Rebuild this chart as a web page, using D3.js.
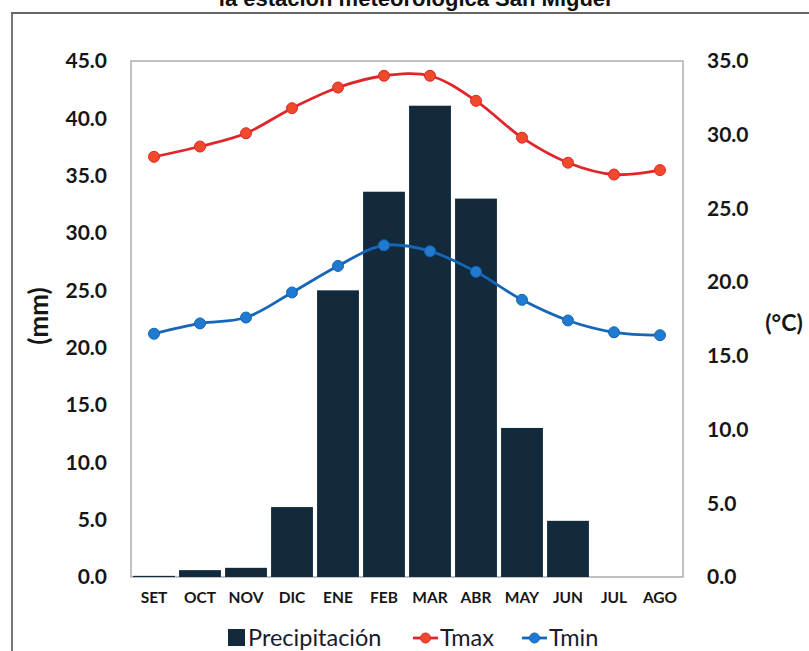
<!DOCTYPE html>
<html><head><meta charset="utf-8">
<script src="https://cdn.jsdelivr.net/npm/d3@7"></script>
<style>body{margin:0;background:#fff;}svg{display:block;}</style>
</head><body>
<script>
const months = ["SET","OCT","NOV","DIC","ENE","FEB","MAR","ABR","MAY","JUN","JUL","AGO"];
const precip = [0.1,0.6,0.8,6.1,25.0,33.6,41.1,33.0,13.0,4.9,0.0,0.0];
const tmax = [28.5,29.2,30.1,31.8,33.2,34.0,34.0,32.3,29.8,28.1,27.3,27.6];
const tmin = [16.5,17.2,17.6,19.3,21.1,22.5,22.1,20.7,18.8,17.4,16.6,16.4];
const leftTicks = [0,5,10,15,20,25,30,35,40,45];
const rightTicks = [0,5,10,15,20,25,30,35];
const title = "la estación meteorológica San Miguel";

const W = 809, H = 651;
const P = {left:131, right:683, top:61, bottom:577};
const svg = d3.select("body").append("svg").attr("width",W).attr("height",H);
const font = "Lato, 'Open Sans', sans-serif";

// outer frame
svg.append("path").attr("d",`M12,${H+5} L12,13 L${W+5},13`).attr("fill","none").attr("stroke","#666").attr("stroke-width",1.8);
// title (cut at top)
svg.append("text").attr("x",415).attr("y",6).attr("text-anchor","middle")
  .attr("font-family","'Liberation Sans', Arial, sans-serif").attr("font-weight","bold").attr("font-size",22)
  .attr("fill","#111").text(title);

const x = d3.scaleBand().domain(months).range([P.left,P.right]).paddingInner(0.09).paddingOuter(0.045);
const yL = d3.scaleLinear().domain([0,45]).range([P.bottom,P.top]);
const yR = d3.scaleLinear().domain([0,35]).range([P.bottom,P.top]);

// plot border
svg.append("rect").attr("x",P.left).attr("y",P.top).attr("width",P.right-P.left).attr("height",P.bottom-P.top)
  .attr("fill","none").attr("stroke","#9a9a9a").attr("stroke-width",1.2);

// bars
svg.append("g").selectAll("rect").data(precip).join("rect")
  .attr("x",(d,i)=>x(months[i])).attr("width",x.bandwidth())
  .attr("y",d=>yL(d)).attr("height",d=>yL(0)-yL(d)).attr("fill","#132a3d");

// axes
const axL = svg.append("g").attr("transform",`translate(${P.left-24},0)`)
  .call(d3.axisLeft(yL).tickValues(leftTicks).tickFormat(d3.format(".1f")).tickSize(0).tickPadding(0));
const axR = svg.append("g").attr("transform",`translate(${P.right+24},0)`)
  .call(d3.axisRight(yR).tickValues(rightTicks).tickFormat(d3.format(".1f")).tickSize(0).tickPadding(0));
const axX = svg.append("g").attr("transform",`translate(0,${P.bottom+15})`)
  .call(d3.axisBottom(x).tickSize(0).tickPadding(0));
[axL,axR,axX].forEach(a=>{a.select(".domain").remove();
  a.selectAll("text").attr("font-family",font).attr("font-weight","bold").attr("fill","#161616");});
axL.selectAll("text").attr("font-size",21);
axR.selectAll("text").attr("font-size",21);
axX.selectAll("text").attr("font-size",15.5).attr("dy","0.71em");

// axis titles
svg.append("text").attr("transform","translate(48,316) rotate(-90)").attr("text-anchor","middle")
  .attr("font-family",font).attr("font-weight","bold").attr("font-size",26).attr("fill","#161616").text("(mm)");
svg.append("text").attr("x",784).attr("y",323).attr("dy","0.35em").attr("text-anchor","middle")
  .attr("font-family",font).attr("font-weight","bold").attr("font-size",23).attr("fill","#161616").text("(°C)");

// lines
const cx = i => x(months[i]) + x.bandwidth()/2;
function series(data,color,fillc){
  const line = d3.line().x((d,i)=>cx(i)).y(d=>yR(d)).curve(d3.curveCatmullRom.alpha(0.5));
  svg.append("path").datum(data).attr("d",line).attr("fill","none").attr("stroke",color).attr("stroke-width",2.8);
  svg.append("g").selectAll("circle").data(data).join("circle")
    .attr("cx",(d,i)=>cx(i)).attr("cy",d=>yR(d)).attr("r",5.5).attr("fill",fillc).attr("stroke",color).attr("stroke-width",1);
}
series(tmax,"#e0262b","#ef4a2a");
series(tmin,"#1666b8","#1f7ad0");

// legend
const lg = svg.append("g");
lg.append("rect").attr("x",228).attr("y",629).attr("width",17).attr("height",17).attr("fill","#132a3d");
lg.append("text").attr("x",248).attr("y",646).attr("font-family",font).attr("font-size",23.5).attr("fill","#1a1a2a").text("Precipitación");
[[413,"#e0262b","#ef4a2a","Tmax"],[522,"#1666b8","#1f7ad0","Tmin"]].forEach(([lx,c,f,t])=>{
  lg.append("line").attr("x1",lx).attr("x2",lx+25).attr("y1",638).attr("y2",638).attr("stroke",c).attr("stroke-width",2.8);
  lg.append("circle").attr("cx",lx+12.5).attr("cy",638).attr("r",5).attr("fill",f).attr("stroke",c);
  lg.append("text").attr("x",lx+27).attr("y",646).attr("font-family",font).attr("font-size",23.5).attr("fill","#1a1a2a").text(t);
});
</script>
</body></html>
